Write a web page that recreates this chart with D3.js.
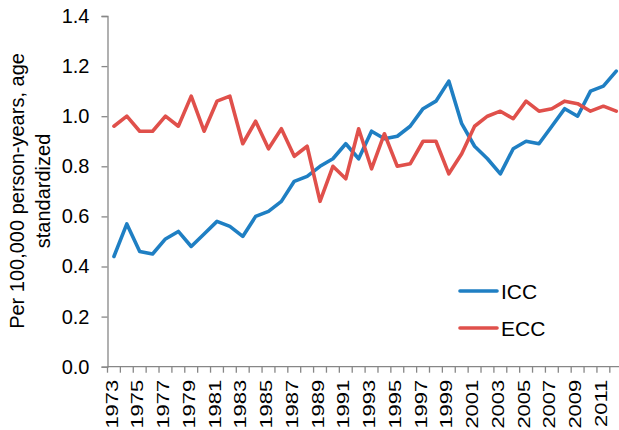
<!DOCTYPE html>
<html><head><meta charset="utf-8">
<script src="https://cdn.jsdelivr.net/npm/d3@7"></script>
<style>
html,body{margin:0;padding:0;background:#fff;}
text{font-family:Arial,"Liberation Sans",sans-serif;fill:#000;}
</style></head>
<body>
<svg id="c" width="619" height="430"></svg>
<script>
const years = d3.range(1973, 2013);
const icc = [0.44,0.57,0.46,0.45,0.51,0.54,0.48,0.53,0.58,0.56,0.52,0.60,0.62,0.66,0.74,0.76,0.80,0.83,0.89,0.83,0.94,0.91,0.92,0.96,1.03,1.06,1.14,0.97,0.88,0.83,0.77,0.87,0.90,0.89,0.96,1.03,1.00,1.10,1.12,1.18];
const ecc = [0.96,1.00,0.94,0.94,1.00,0.96,1.08,0.94,1.06,1.08,0.89,0.98,0.87,0.95,0.84,0.88,0.66,0.80,0.75,0.95,0.79,0.93,0.80,0.81,0.90,0.90,0.77,0.85,0.96,1.00,1.02,0.99,1.06,1.02,1.03,1.06,1.05,1.02,1.04,1.02];
const yTicks = [0,0.2,0.4,0.6,0.8,1.0,1.2,1.4];
const xLabelYears = years.filter((d,i)=>i%2===0);
const seriesNames = ["ICC","ECC"];
const colors = ["#1f7fc3","#e0504b"];

const svg = d3.select("#c");
const pLeft = 107.5, step = 12.88, pTop = 16, pBottom = 366.7;
const x = d3.scaleBand().domain(years).range([pLeft, pLeft + step*years.length]).padding(0);
const y = d3.scaleLinear().domain([0,1.4]).range([pBottom, pTop]);
const axisColor = "#878787";

// Y axis
const ya = svg.append("g").attr("transform",`translate(${pLeft},0)`)
  .call(d3.axisLeft(y).tickValues(yTicks).tickFormat(d3.format(".1f")).tickSize(6).tickPadding(12));
ya.select(".domain").attr("stroke",axisColor).attr("stroke-width",1.3);
ya.selectAll(".tick line").attr("stroke",axisColor).attr("stroke-width",1.3);
ya.selectAll(".tick text").attr("font-size",20).attr("font-family","Arial, 'Liberation Sans', sans-serif").attr("fill","#000");

// X axis
const sx = 1.1, sy = 0.8;
const xa = svg.append("g").attr("transform",`translate(0,${pBottom})`)
  .call(d3.axisBottom(x).tickValues(xLabelYears).tickSize(0).tickPadding(0));
xa.select(".domain").remove();
xa.selectAll(".tick text")
  .attr("font-size",20).attr("font-family","Arial, 'Liberation Sans', sans-serif").attr("fill","#000")
  .attr("transform",`rotate(-90) scale(${sx},${sy})`).attr("text-anchor","end")
  .attr("x",-13/sx).attr("y",3.6/sy).attr("dy",null);
svg.append("line").attr("x1",pLeft).attr("x2",619).attr("y1",pBottom).attr("y2",pBottom)
  .attr("stroke",axisColor).attr("stroke-width",1.3);
svg.append("g").selectAll("line").data(years.concat([null])).join("line")
  .attr("x1",(d,i)=> i<years.length ? x(d) : x(years[years.length-1])+x.bandwidth())
  .attr("x2",(d,i)=> i<years.length ? x(d) : x(years[years.length-1])+x.bandwidth())
  .attr("y1",pBottom).attr("y2",pBottom+6).attr("stroke",axisColor).attr("stroke-width",1.3);

// Y title
const title = svg.append("text").attr("transform",`translate(0,191) rotate(-90)`)
  .attr("text-anchor","middle").attr("font-size",20);
title.append("tspan").attr("x",0).attr("y",24).text("Per 100,000 person-years, age");
title.append("tspan").attr("x",0).attr("y",50).text("standardized");

// Lines
const line = d3.line().x((d,i)=>x(years[i])+x.bandwidth()/2).y(d=>y(d));
[icc,ecc].forEach((s,k)=>{
  svg.append("path").datum(s).attr("d",line).attr("fill","none")
    .attr("stroke",colors[k]).attr("stroke-width",3.6).attr("stroke-linejoin","round").attr("stroke-linecap","round");
});

// Legend
const lg = svg.append("g");
seriesNames.forEach((n,k)=>{
  const yy = 291 + k*37;
  lg.append("line").attr("x1",460).attr("x2",497).attr("y1",yy).attr("y2",yy)
    .attr("stroke",colors[k]).attr("stroke-width",3.6).attr("stroke-linecap","round");
  lg.append("text").attr("x",501).attr("y",yy+8).attr("font-size",21).text(n);
});
</script>
</body></html>
